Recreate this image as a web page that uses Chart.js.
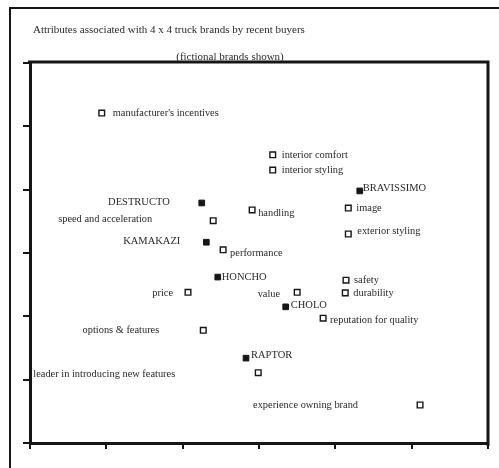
<!DOCTYPE html>
<html>
<head>
<meta charset="utf-8">
<script src="https://cdn.jsdelivr.net/npm/chart.js@4/dist/chart.umd.min.js"></script>
<style>
  html, body { margin: 0; padding: 0; background: #ffffff; }
  #wrap { width: 499px; height: 468px; position: relative; }
</style>
</head>
<body>
<div id="wrap"><canvas id="c" width="499" height="468"></canvas></div>
<script>
// ---- DATA ----
const titleText = "Attributes associated with 4 x 4 truck brands by recent buyers";
const subtitleText = "(fictional brands shown)";

const attributeNames = [
  "manufacturer's incentives", "interior comfort", "interior styling", "handling",
  "image", "speed and acceleration", "exterior styling", "performance",
  "safety", "price", "value", "durability",
  "reputation for quality", "options & features", "leader in introducing new features", "experience owning brand"
];
const attributeX = [0.94, 3.18, 3.18, 2.91, 4.17, 2.40, 4.17, 2.53, 4.14, 2.07, 3.50, 4.13, 3.84, 2.27, 2.99, 5.11];
const attributeY = [5.21, 4.55, 4.31, 3.68, 3.71, 3.51, 3.30, 3.05, 2.57, 2.38, 2.38, 2.37, 1.97, 1.78, 1.11, 0.60];

const brandNames = ["BRAVISSIMO", "DESTRUCTO", "KAMAKAZI", "HONCHO", "CHOLO", "RAPTOR"];
const brandX = [4.32, 2.25, 2.31, 2.46, 3.35, 2.83];
const brandY = [3.98, 3.79, 3.17, 2.62, 2.15, 1.34];

const xTicks = [0, 1, 2, 3, 4, 5, 6];
const yTicks = [0, 1, 2, 3, 4, 5, 6];

// ---- LAYOUT (label placement: side, gap px, vertical shift px) ----
const attributeLabelPlace = [
  ['r', 11, 0], ['r', 9, 0], ['r', 9, 0], ['r', 6, 3],
  ['r', 8, 0], ['l', 61, -1], ['r', 9, -3], ['r', 7, 3],
  ['r', 8, 0], ['l', 15, 1], ['l', 17, 2], ['r', 8, 0],
  ['r', 7, 2], ['l', 44, 0], ['l', 83, 2], ['l', 62, 0]
];
const brandLabelPlace = [
  ['r', 3, -3], ['l', 32, -1], ['l', 26, -1], ['r', 4, 0], ['r', 5, -2], ['r', 5, -3]
];

const INK = '#161616';
const TEXT = '#2a2a2a';
const FONT = '"Liberation Serif", "DejaVu Serif", serif';

const frameAndLabels = {
  id: 'frameAndLabels',
  beforeDraw(chart) {
    const ctx = chart.ctx;
    ctx.save();
    ctx.fillStyle = '#ffffff';
    ctx.fillRect(0, 0, chart.width, chart.height);
    // outer frame
    ctx.strokeStyle = INK;
    ctx.lineWidth = 2;
    ctx.beginPath();
    ctx.moveTo(10, chart.height);
    ctx.lineTo(10, 8);
    ctx.lineTo(chart.width, 8);
    ctx.stroke();
    // titles
    ctx.fillStyle = TEXT;
    ctx.textBaseline = 'middle';
    ctx.font = '11px ' + FONT;
    ctx.textAlign = 'left';
    ctx.fillText(titleText, 33, 30);
    ctx.textAlign = 'center';
    ctx.fillText(subtitleText, 230, 57);
    ctx.restore();
  },
  afterDraw(chart) {
    const ctx = chart.ctx;
    const a = chart.chartArea;
    ctx.save();
    // top and right plot borders
    ctx.strokeStyle = INK;
    ctx.lineWidth = 3;
    ctx.beginPath();
    ctx.moveTo(a.left - 2, a.top - 1);
    ctx.lineTo(a.right, a.top - 1);
    ctx.lineTo(a.right, a.bottom + 3);
    ctx.stroke();
    // point labels
    ctx.fillStyle = TEXT;
    ctx.textBaseline = 'middle';
    const drawSet = (dsIndex, names, place, font) => {
      const meta = chart.getDatasetMeta(dsIndex);
      ctx.font = font;
      meta.data.forEach((pt, i) => {
        const p = place[i];
        if (p[0] === 'r') {
          ctx.textAlign = 'left';
          ctx.fillText(names[i], pt.x + p[1], pt.y + p[2]);
        } else {
          ctx.textAlign = 'right';
          ctx.fillText(names[i], pt.x - p[1], pt.y + p[2]);
        }
      });
    };
    drawSet(0, attributeNames, attributeLabelPlace, '10.4px ' + FONT);
    drawSet(1, brandNames, brandLabelPlace, '10.5px ' + FONT);
    ctx.restore();
  }
};

const attrPoints = attributeX.map((x, i) => ({ x: x, y: attributeY[i] }));
const brandPoints = brandX.map((x, i) => ({ x: x, y: brandY[i] }));

new Chart(document.getElementById('c'), {
  type: 'scatter',
  data: {
    datasets: [
      {
        label: 'Attributes',
        data: attrPoints,
        pointStyle: 'rect',
        pointRadius: 4,
        pointBorderWidth: 1.4,
        pointBackgroundColor: '#ffffff',
        pointBorderColor: INK
      },
      {
        label: 'Brands',
        data: brandPoints,
        pointStyle: 'rect',
        pointRadius: 4,
        pointBorderWidth: 1,
        pointBackgroundColor: INK,
        pointBorderColor: INK
      }
    ]
  },
  options: {
    responsive: false,
    animation: false,
    devicePixelRatio: 1,
    layout: { autoPadding: false, padding: { left: 23, right: 11, top: 63, bottom: 19 } },
    plugins: {
      legend: { display: false },
      title: { display: false },
      tooltip: { enabled: false }
    },
    scales: {
      x: {
        type: 'linear',
        min: 0, max: 6,
        afterBuildTicks: (s) => { s.ticks = xTicks.map(v => ({ value: v })); },
        ticks: { display: false },
        grid: { drawOnChartArea: false, drawTicks: true, tickLength: 6, color: INK, lineWidth: 2 },
        border: { display: true, width: 3, color: INK }
      },
      y: {
        type: 'linear',
        min: 0, max: 6,
        afterBuildTicks: (s) => { s.ticks = yTicks.map(v => ({ value: v })); },
        ticks: { display: false },
        grid: { drawOnChartArea: false, drawTicks: true, tickLength: 7, color: INK, lineWidth: 2 },
        border: { display: true, width: 3, color: INK }
      }
    }
  },
  plugins: [frameAndLabels]
});
</script>
</body>
</html>
